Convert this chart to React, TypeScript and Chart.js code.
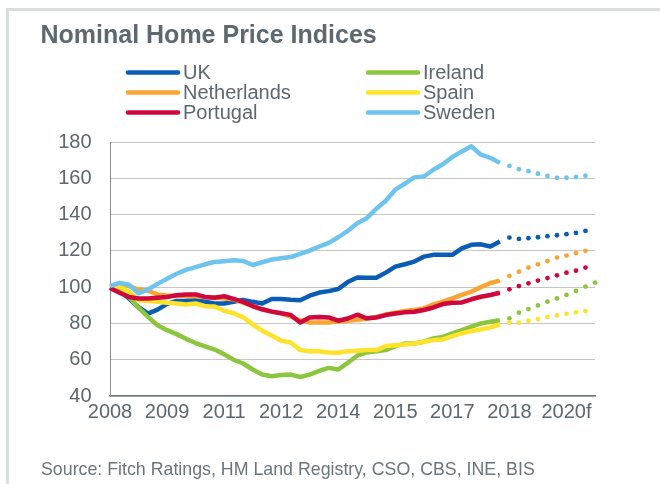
import React, { useEffect, useRef } from "react";
import { Chart, registerables } from "chart.js";

Chart.register(...registerables);

// Quarterly categories, 2008Q1 .. 2020Q4
const CATEGORIES = [
  "2008Q1","2008Q2","2008Q3","2008Q4","2009Q1","2009Q2","2009Q3","2009Q4",
  "2010Q1","2010Q2","2010Q3","2010Q4","2011Q1","2011Q2","2011Q3","2011Q4",
  "2012Q1","2012Q2","2012Q3","2012Q4","2013Q1","2013Q2","2013Q3","2013Q4",
  "2014Q1","2014Q2","2014Q3","2014Q4","2015Q1","2015Q2","2015Q3","2015Q4",
  "2016Q1","2016Q2","2016Q3","2016Q4","2017Q1","2017Q2","2017Q3","2017Q4",
  "2018Q1","2018Q2","2018Q3","2018Q4","2019Q1","2019Q2","2019Q3","2019Q4",
  "2020Q1","2020Q2","2020Q3","2020Q4",
];
const TICK_LABELS = ["2008", "2009", "2011", "2012", "2014", "2015", "2017", "2018", "2020f"];
const TICK_EVERY = 6;
const FORECAST_START = 42;

const UK = [100, 98, 93.7, 89, 85.4, 87.6, 90.8, 92.4, 92.5, 92.8, 92, 91, 91, 91.9, 93, 91.9, 91, 93.5, 93.5, 93, 92.8, 95.3, 97, 97.8, 99, 102.8, 105.3, 105.2, 105.2, 108, 111.3, 112.6, 114.1, 116.8, 117.8, 117.9, 117.8, 121.4, 123.3, 123.6, 122.4, 125.1];
const UK_F = [127.3, 126.6, 127, 127.5, 128.1, 128.6, 129.2, 129.9, 131];

const NETHERLANDS = [100, 101.1, 100.6, 98.7, 98, 96, 95.4, 95.2, 95, 95, 94.6, 94.4, 93.7, 93.3, 91.4, 89.6, 87.8, 86.5, 85.6, 83.8, 81.6, 80.5, 80.5, 80.5, 81, 81.5, 82, 82.6, 83.5, 85, 85.9, 86.8, 87.4, 88.3, 90.5, 92, 93.8, 95.7, 97.5, 100, 102.3, 103.6];
const NETHERLANDS_F = [106.2, 108.5, 110.8, 112.6, 114.3, 116.3, 117.4, 118.7, 120];

const PORTUGAL = [99.5, 96.9, 94.6, 93.7, 93.7, 94.2, 94.6, 95.5, 96, 96, 94.6, 94.2, 95, 93.5, 91.9, 89.6, 87.8, 86.5, 85.6, 84.7, 80.5, 83.3, 83.6, 83.3, 81.5, 82.7, 84.8, 82.8, 83.3, 84.6, 85.5, 86.1, 86.4, 87.4, 88.8, 90.7, 91.4, 91.6, 93.3, 94.7, 95.7, 96.9];
const PORTUGAL_F = [98.8, 100.6, 102.1, 103.6, 105, 106.5, 108, 109.1, 110.8];

const IRELAND = [100, 99, 94.6, 88.7, 83.6, 79, 76.3, 74.1, 71.5, 69.2, 67.3, 65.6, 63, 60, 57.9, 54.6, 51.8, 50.9, 51.6, 51.8, 50.5, 51.8, 53.8, 55.5, 54.6, 58.3, 62.2, 64, 64.7, 65.3, 67.5, 68.9, 68.9, 69.9, 71.7, 72.6, 74.5, 76.3, 78.2, 80, 80.9, 81.8];
const IRELAND_F = [82.8, 85.9, 87.9, 89.9, 92, 93.8, 95.7, 97.9, 100.3, 102.5];

const SPAIN = [100, 100.2, 97.5, 92.8, 92.3, 91.9, 91.4, 91, 90.4, 91, 89.5, 89.3, 87, 85.6, 83.4, 79.5, 76, 73.3, 70.5, 69.5, 65.3, 64.7, 64.7, 64, 63.8, 64.7, 65, 65.3, 65.3, 67.5, 68, 68.4, 68.9, 69.9, 70.8, 71.2, 73, 74.5, 75.8, 76.7, 77.8, 79.4];
const SPAIN_F = [80.4, 80.4, 81.5, 82.4, 83.5, 84.4, 85.3, 86.1, 86.8];

const SWEDEN = [100.5, 102.3, 101.3, 96.6, 98.7, 101.8, 104.6, 107.4, 109.5, 111, 112.6, 113.9, 114.3, 114.8, 114.4, 112.2, 113.7, 115.2, 115.9, 116.6, 118.3, 120.1, 122.4, 124.4, 127.5, 131, 135.2, 138, 143.2, 147.6, 153.7, 157, 160.5, 161, 164.7, 167.7, 171.7, 174.8, 177.6, 173, 171.3, 168.5];
const SWEDEN_F = [166.8, 165, 163.9, 162.5, 161.3, 160.2, 160.3, 160.7, 161.4];

const SERIES = [
  { name: "UK", color: "#0a5db4", hist: UK, fc: UK_F, order: 5 },
  { name: "Ireland", color: "#8cc63f", hist: IRELAND, fc: IRELAND_F, order: 4 },
  { name: "Netherlands", color: "#f9a533", hist: NETHERLANDS, fc: NETHERLANDS_F, order: 3 },
  { name: "Spain", color: "#ffe22a", hist: SPAIN, fc: SPAIN_F, order: 2 },
  { name: "Portugal", color: "#cf073c", hist: PORTUGAL, fc: PORTUGAL_F, order: 1 },
  { name: "Sweden", color: "#6ec4ec", hist: SWEDEN, fc: SWEDEN_F, order: 0 },
];

const TITLE = "Nominal Home Price Indices";
const SOURCE = "Source: Fitch Ratings, HM Land Registry, CSO, CBS, INE, BIS";
const FONT = "'Liberation Sans', Arial, sans-serif";
const TEXT_COLOR = "#5c6770";

const decorPlugin = {
  id: "decor",
  beforeDraw(chart: any) {
    const ctx = chart.ctx;
    ctx.save();
    ctx.fillStyle = "#ffffff";
    ctx.fillRect(0, 0, chart.width, chart.height);
    ctx.fillStyle = "#dadede";
    ctx.fillRect(6, 8, chart.width - 6, 3);
    ctx.fillRect(6, 8, 3, chart.height - 8);
    ctx.restore();
  },
  afterDraw(chart: any) {
    const ctx = chart.ctx;
    ctx.save();
    // title
    ctx.fillStyle = "#5d6870";
    ctx.font = `bold 25px ${FONT}`;
    ctx.textAlign = "left";
    ctx.textBaseline = "alphabetic";
    ctx.fillText(TITLE, 40.5, 42.7);
    // legend (2 columns x 3 rows, row-major)
    const cols = [127, 367];
    const rows = [72.5, 92.5, 112.5];
    ctx.font = `20px ${FONT}`;
    ctx.textBaseline = "middle";
    SERIES.forEach((s, i) => {
      const cx = cols[i % 2];
      const cy = rows[Math.floor(i / 2)];
      ctx.strokeStyle = s.color;
      ctx.lineWidth = 4.5;
      ctx.lineCap = "round";
      ctx.beginPath();
      ctx.moveTo(cx + 1, cy);
      ctx.lineTo(cx + 51, cy);
      ctx.stroke();
      ctx.fillStyle = TEXT_COLOR;
      ctx.fillText(s.name, cx + 56, cy + 0.5);
    });
    // source
    ctx.fillStyle = "#6a767e";
    ctx.font = `17.8px ${FONT}`;
    ctx.textBaseline = "alphabetic";
    ctx.fillText(SOURCE, 41, 475);
    ctx.restore();
  },
};

export default function App() {
  const ref = useRef<HTMLCanvasElement | null>(null);

  useEffect(() => {
    document.body.style.margin = "0";
    const canvas = ref.current;
    if (!canvas) return;

    const datasets: any[] = [];
    SERIES.forEach((s) => {
      datasets.push({
        label: s.name,
        data: s.hist,
        borderColor: s.color,
        backgroundColor: s.color,
        borderWidth: 4.5,
        borderJoinStyle: "round",
        pointRadius: 0,
        fill: false,
        tension: 0,
        order: s.order,
      });
      const fcData: (number | null)[] = CATEGORIES.map(() => null);
      s.fc.forEach((v, k) => {
        fcData[FORECAST_START + k] = v;
      });
      datasets.push({
        label: s.name + " forecast",
        data: fcData,
        showLine: false,
        borderColor: s.color,
        backgroundColor: s.color,
        pointBackgroundColor: s.color,
        pointBorderWidth: 0,
        pointRadius: 2.4,
        order: s.order,
      });
    });

    const chart = new Chart(canvas, {
      type: "line",
      data: { labels: CATEGORIES, datasets },
      options: {
        animation: false,
        responsive: false,
        devicePixelRatio: 1,
        layout: { padding: { left: 0, top: 142, right: 65, bottom: 0 } },
        plugins: {
          legend: { display: false },
          title: { display: false },
          tooltip: { enabled: false },
        },
        scales: {
          x: {
            type: "category",
            offset: false,
            grid: { display: false, drawTicks: false },
            border: { display: true, color: "#6b747a", width: 1.5 },
            ticks: {
              autoSkip: false,
              maxRotation: 0,
              minRotation: 0,
              padding: 4,
              color: TEXT_COLOR,
              font: { family: FONT, size: 20 },
              callback: (_v: any, index: number) =>
                index % TICK_EVERY === 0 ? TICK_LABELS[index / TICK_EVERY] ?? "" : "",
            },
            afterFit: (scale: any) => {
              scale.height = 88;
            },
          },
          y: {
            min: 40,
            max: 180,
            grid: { color: "#c6c6c6", lineWidth: 1, drawTicks: false },
            border: { display: true, color: "#8a8f93", width: 1 },
            ticks: {
              stepSize: 20,
              padding: 18.5,
              color: TEXT_COLOR,
              font: { family: FONT, size: 20 },
            },
            afterFit: (scale: any) => {
              scale.width = 110;
            },
          },
        },
      },
      plugins: [decorPlugin],
    });

    return () => chart.destroy();
  }, []);

  return (
    <div style={{ width: 660, height: 484, position: "relative" }}>
      <canvas ref={ref} width={660} height={484} style={{ display: "block" }} />
    </div>
  );
}
